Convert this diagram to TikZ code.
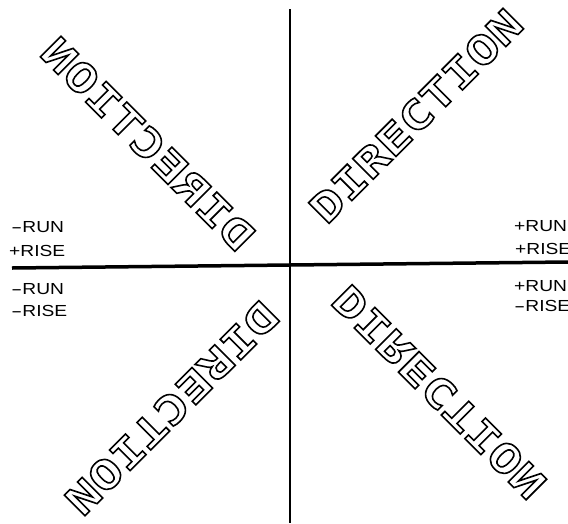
\documentclass[tikz,border=0pt]{standalone}
\usepackage{fontspec}
\usepackage{graphicx}
\newfontfamily\dirfont[FakeStretch=1.3]{DejaVu Sans Mono}
\newfontfamily\lblfont[FakeStretch=1.2]{Liberation Sans}
\newcommand\outlinetext[1]{\special{pdf:literal direct 1 Tr 1.6 w}#1\special{pdf:literal direct 0 Tr}}
\newcommand\widedash{\scalebox{1.75}[1]{-}}
\tikzset{
  dirtext/.style={inner sep=0pt, font=\dirfont\bfseries\fontsize{40}{40}\selectfont},
  lbl/.style={inner sep=0pt, anchor=west, font=\lblfont\fontsize{16}{16}\selectfont},
  axisline/.style={line width=3.5pt, black},
  vaxisline/.style={line width=2.5pt, black}
}
\begin{document}
\begin{tikzpicture}[x=1pt,y=1pt]
\useasboundingbox (0,0) rectangle (568,-523);
\clip (0,0) rectangle (568,-523);
% axes
\coordinate (hl) at (12,-268);
\coordinate (hr) at (568,-262);
\coordinate (vt) at (290,-9);
\coordinate (vb) at (290,-523);
\draw[axisline] (hl) -- (hr);
\draw[vaxisline] (vt) -- (vb);
% labels
\node[lbl] (l1) at (11,-227.5) {\widedash RUN};
\node[lbl] (l2) at (9,-251) {+RISE};
\node[lbl] (l3) at (11,-289) {\widedash RUN};
\node[lbl] (l4) at (11,-311) {\widedash RISE};
\node[lbl] (r1) at (514,-226) {+RUN};
\node[lbl] (r2) at (515,-249) {+RISE};
\node[lbl] (r3) at (514,-286) {+RUN};
\node[lbl] (r4) at (514,-306) {\widedash RISE};
% DIRECTION texts
\begin{scope}[shift={(416,-116)}]
\node[dirtext, rotate=45] (dtr) at (0,0) {\outlinetext{DIRECTION}};
\end{scope}
\begin{scope}[shift={(148,-144)}]
\node[dirtext, xscale=-1, rotate=45] (dtl) at (0,0) {\outlinetext{DIRECTION}};
\end{scope}
\begin{scope}[shift={(439,-392)}]
\node[dirtext, yscale=-1, rotate=45] (dbr) at (0,0) {\outlinetext{DIRECTION}};
\end{scope}
\begin{scope}[shift={(172,-408)}]
\node[dirtext, rotate=225] (dbl) at (0,0) {\outlinetext{DIRECTION}};
\end{scope}
\end{tikzpicture}
\end{document}
